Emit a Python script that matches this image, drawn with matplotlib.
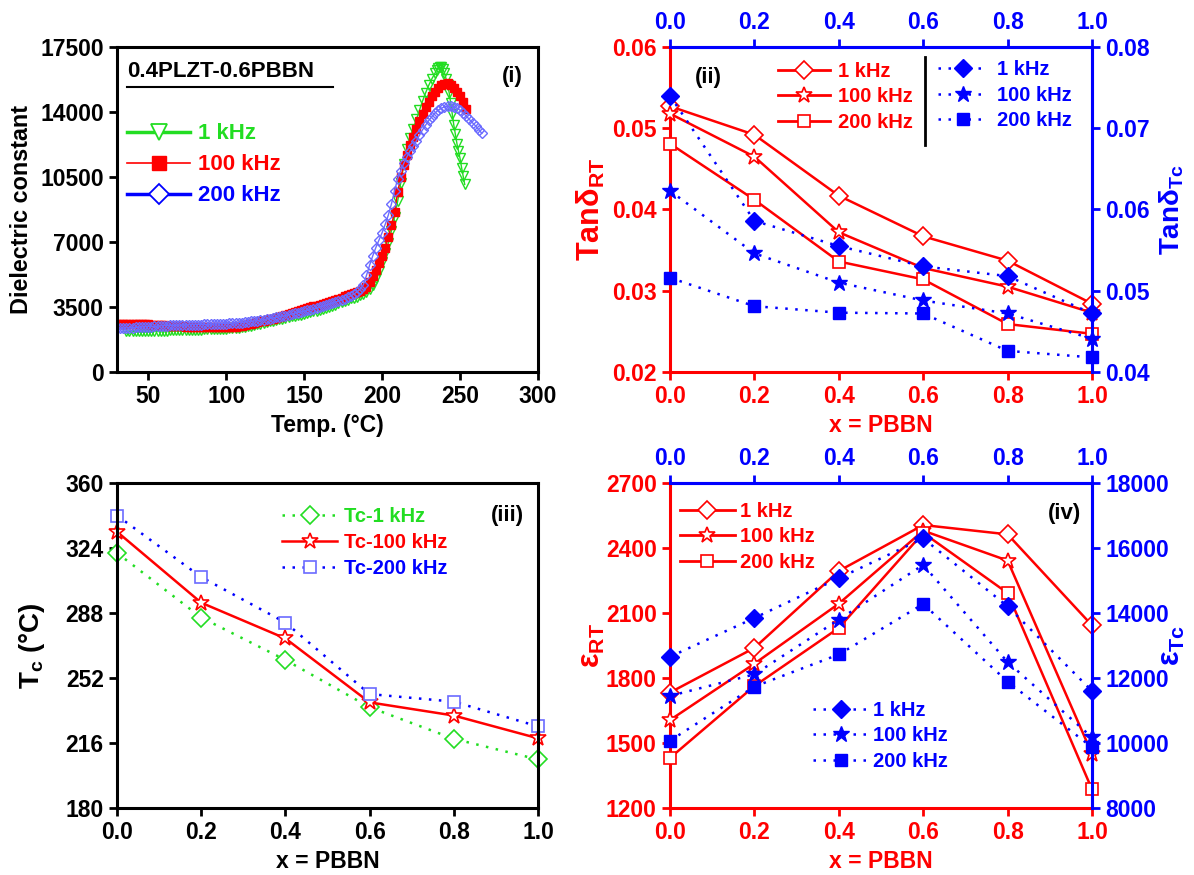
import numpy as np
import matplotlib
matplotlib.use("Agg")
import matplotlib.pyplot as plt
from matplotlib.lines import Line2D

plt.rcParams['font.family'] = ['Liberation Sans', 'DejaVu Sans']
plt.rcParams['font.weight'] = 'bold'
plt.rcParams['mathtext.fontset'] = 'custom'
plt.rcParams['mathtext.rm'] = 'Liberation Sans:bold'
plt.rcParams['mathtext.it'] = 'Liberation Sans:bold'
plt.rcParams['mathtext.bf'] = 'Liberation Sans:bold'
plt.rcParams['mathtext.default'] = 'bf'

# ---------------- data: panel (i) ----------------
temp_200k = np.arange(30, 265, 2)
eps_200k = [2350, 2350, 2360, 2370, 2380, 2390, 2400, 2410, 2420, 2430,
            2440, 2450, 2460, 2470, 2480, 2490, 2500, 2505, 2510, 2515,
            2520, 2525, 2530, 2535, 2540, 2545, 2550, 2555, 2560, 2565,
            2570, 2575, 2580, 2590, 2600, 2610, 2620, 2630, 2640, 2650,
            2665, 2680, 2700, 2720, 2740, 2760, 2790, 2820, 2850, 2880,
            2910, 2940, 2970, 3000, 3040, 3080, 3120, 3160, 3200, 3240,
            3280, 3320, 3360, 3400, 3450, 3500, 3550, 3600, 3650, 3700,
            3760, 3820, 3880, 3950, 4020, 4100, 4200, 4320, 4470, 4700,
            5200, 5750, 6250, 6700, 7100, 7500, 7950, 8450, 9050, 9750,
            10400, 10850, 11250, 11600, 11900, 12150, 12450, 12750, 13050, 13300,
            13550, 13750, 13950, 14100, 14200, 14280, 14320, 14320, 14280, 14200,
            14100, 13950, 13780, 13600, 13420, 13250, 13050, 12850]

temp_100k = np.arange(30, 255, 2)
eps_100k = [2600, 2600, 2600, 2600, 2600, 2600, 2600, 2590, 2580, 2570,
            2560, 2550, 2540, 2530, 2520, 2510, 2500, 2490, 2480, 2470,
            2460, 2455, 2450, 2445, 2440, 2435, 2430, 2425, 2420, 2420,
            2420, 2420, 2420, 2420, 2425, 2430, 2435, 2440, 2450, 2470,
            2500, 2530, 2560, 2600, 2640, 2680, 2720, 2760, 2800, 2840,
            2880, 2930, 2980, 3030, 3080, 3130, 3180, 3230, 3280, 3330,
            3380, 3430, 3480, 3530, 3580, 3630, 3680, 3730, 3780, 3830,
            3890, 3950, 4010, 4070, 4130, 4190, 4250, 4310, 4370, 4450,
            4600, 4850, 5150, 5500, 5850, 6250, 6700, 7250, 7900, 8600,
            9700, 10500, 11150, 11700, 12200, 12650, 13100, 13500, 13900, 14250,
            14550, 14850, 15100, 15300, 15450, 15530, 15550, 15450, 15300, 15100,
            14850, 14550, 14150]

temp_1k = np.concatenate([np.arange(36, 235, 2), np.arange(235, 254, 1)])
eps_1k = [2200, 2200, 2200, 2200, 2200, 2200, 2200, 2200, 2210, 2210,
          2220, 2220, 2230, 2230, 2240, 2240, 2250, 2250, 2255, 2260,
          2265, 2270, 2275, 2280, 2285, 2290, 2295, 2300, 2305, 2310,
          2315, 2320, 2330, 2345, 2360, 2375, 2390, 2410, 2440, 2470,
          2500, 2530, 2560, 2600, 2640, 2680, 2720, 2760, 2800, 2840,
          2880, 2920, 2960, 2990, 3020, 3050, 3080, 3110, 3160, 3210,
          3260, 3310, 3360, 3410, 3460, 3510, 3560, 3610, 3690, 3770,
          3840, 3900, 3960, 4010, 4060, 4120, 4200, 4330, 4480, 4700,
          5050, 5450, 5900, 6400, 6950, 7600, 8350, 9200, 10200, 11200,
          12000, 12600, 13100, 13600, 14100, 14600, 15050, 15450, 15800, 16100,
          16250, 16350, 16420, 16420, 16300, 16100, 15800, 15450, 15050, 14500,
          13900, 13300, 12800, 12300, 11900, 11500, 11000, 10550, 10100]

# ---------------- data: composition panels ----------------
x_pbbn = [0.0, 0.2, 0.4, 0.6, 0.8, 1.0]
freq_labels = ['1 kHz', '100 kHz', '200 kHz']
tc_labels = ['Tc-1 kHz', 'Tc-100 kHz', 'Tc-200 kHz']

tan_rt_1k = [0.0527, 0.0492, 0.0417, 0.0367, 0.0337, 0.0284]
tan_rt_100k = [0.0518, 0.0465, 0.0372, 0.0328, 0.0305, 0.0273]
tan_rt_200k = [0.0481, 0.0412, 0.0336, 0.0314, 0.0259, 0.0247]
tan_tc_1k = [0.0740, 0.0586, 0.0555, 0.0530, 0.0518, 0.0472]
tan_tc_100k = [0.0623, 0.0546, 0.0510, 0.0488, 0.0472, 0.0441]
tan_tc_200k = [0.0516, 0.0481, 0.0473, 0.0472, 0.0426, 0.0418]

tc_1k = [321.3, 285.5, 262.0, 235.8, 218.3, 206.9]
tc_100k = [333.0, 293.7, 273.9, 238.5, 231.2, 218.6]
tc_200k = [342.0, 307.9, 282.7, 243.1, 238.9, 225.2]

eps_rt_1k = [1733, 1939, 2294, 2506, 2463, 2043]
eps_rt_100k = [1606, 1866, 2143, 2480, 2342, 1450]
eps_rt_200k = [1431, 1763, 2031, 2470, 2192, 1286]
eps_tc_1k = [12653, 13847, 15071, 16296, 14204, 11602]
eps_tc_100k = [11449, 12112, 13796, 15480, 12490, 10173]
eps_tc_200k = [10071, 11735, 12724, 14276, 11888, 9867]

RED = '#ff0000'
BLUE = '#0000ff'
GREEN = '#22dd22'
LBLUE = '#6b6bff'
DOT = (0, (1, 3))

TICK_FS = 16.5
LAB_FS = 16.5
LEG_FS = 14.5
LEG_SP = 0.33

fig = plt.figure(figsize=(11.94, 8.75), dpi=100)
W, H = 1194.0, 875.0
ax1 = fig.add_axes([117 / W, (H - 372) / H, 421 / W, 325 / H])
ax2 = fig.add_axes([670 / W, (H - 372) / H, 422 / W, 325 / H])
ax3 = fig.add_axes([117 / W, (H - 808) / H, 421 / W, 325 / H])
ax4 = fig.add_axes([670 / W, (H - 808) / H, 422 / W, 325 / H])


def style_black(ax):
    for s in ax.spines.values():
        s.set_linewidth(2.2)
        s.set_color('black')
    ax.tick_params(direction='out', length=6, width=2, labelsize=TICK_FS,
                   top=False, right=False)


# ---------------- panel (i) ----------------
style_black(ax1)
ax1.plot(temp_1k, eps_1k, color=GREEN, lw=1.0, marker='v', ms=6.5, mfc='none',
         mec=GREEN, mew=1.0)
ax1.plot(temp_100k, eps_100k, color=RED, lw=1.0, marker='s', ms=6, mfc=RED,
         mec=RED, mew=1.0)
ax1.plot(temp_200k, eps_200k, color=LBLUE, lw=1.0, marker='D', ms=5.5, mfc='none',
         mec=LBLUE, mew=1.0)
ax1.set_xlim(30, 300)
ax1.set_ylim(0, 17500)
ax1.set_xticks([50, 100, 150, 200, 250, 300])
ax1.set_yticks([0, 3500, 7000, 10500, 14000, 17500])
ax1.set_xlabel('Temp. (°C)', fontsize=LAB_FS, fontweight='bold')
ax1.set_ylabel('Dielectric constant', fontsize=16.8, fontweight='bold')
ax1.yaxis.set_label_coords(-0.2, 0.5)
h1 = [Line2D([], [], color=GREEN, lw=2.5, marker='v', ms=12, mfc='white', mec=GREEN, mew=1.3),
      Line2D([], [], color=RED, lw=1.2, marker='s', ms=10, mfc=RED, mec=RED),
      Line2D([], [], color=BLUE, lw=2.5, marker='D', ms=10, mfc='white', mec=BLUE, mew=1.3)]
leg = ax1.legend(h1, freq_labels, loc='upper left', bbox_to_anchor=(0.024, 0.765),
                 frameon=False, fontsize=16, handlelength=2.85, handletextpad=0.33,
                 labelspacing=0.45, borderpad=0, borderaxespad=0)
for t, c in zip(leg.get_texts(), [GREEN, RED, BLUE]):
    t.set_color(c)
    t.set_fontweight('bold')
ax1.text(0.024, 0.924, '0.4PLZT-0.6PBBN', transform=ax1.transAxes, fontsize=16,
         fontweight='bold', va='center', ha='left')
ax1.plot([0.024, 0.513], [0.877, 0.877], transform=ax1.transAxes, color='black', lw=1.5)
ax1.text(0.94, 0.91, '(i)', transform=ax1.transAxes, fontsize=16, fontweight='bold',
         ha='center', va='center')

# ---------------- helper for twin panels ----------------
def style_twin(ax, axr, sec):
    ax.spines['left'].set_color(RED)
    ax.spines['bottom'].set_color(RED)
    ax.spines['top'].set_color(BLUE)
    ax.spines['right'].set_color(BLUE)
    for s in ax.spines.values():
        s.set_linewidth(2.2)
    for k in ['left', 'bottom', 'top']:
        axr.spines[k].set_visible(False)
    axr.spines['right'].set_color(BLUE)
    axr.spines['right'].set_linewidth(2.2)
    sec.spines['top'].set_color(BLUE)
    sec.spines['top'].set_linewidth(2.2)
    ax.tick_params(axis='both', direction='out', length=6, width=2, colors=RED,
                   labelsize=TICK_FS)
    axr.tick_params(axis='y', direction='out', length=6, width=2, colors=BLUE,
                    labelsize=TICK_FS)
    sec.tick_params(axis='x', direction='out', length=6, width=2, colors=BLUE,
                    labelsize=TICK_FS)


# ---------------- panel (ii) ----------------
ax2r = ax2.twinx()
sec2 = ax2.secondary_xaxis('top')
style_twin(ax2, ax2r, sec2)
for ys, m, ms in [(tan_rt_1k, 'D', 9), (tan_rt_100k, '*', 12), (tan_rt_200k, 's', 8)]:
    ax2.plot(x_pbbn, ys, color=RED, lw=1.8, marker=m, ms=ms, mfc='white', mec=RED,
             mew=1.2, clip_on=False, zorder=3)
for ys, m, ms in [(tan_tc_1k, 'D', 9), (tan_tc_100k, '*', 12), (tan_tc_200k, 's', 8)]:
    ax2r.plot(x_pbbn, ys, color=BLUE, lw=1.8, ls=DOT, marker=m, ms=ms, mfc=BLUE,
              mec=BLUE, clip_on=False, zorder=3)
ax2.set_xlim(0, 1)
ax2.set_ylim(0.02, 0.06)
ax2r.set_ylim(0.04, 0.08)
ax2.set_xticks(x_pbbn)
ax2.set_xticklabels(['%.1f' % v for v in x_pbbn])
sec2.set_xticks(x_pbbn)
sec2.set_xticklabels(['%.1f' % v for v in x_pbbn])
ax2.set_yticks([0.02, 0.03, 0.04, 0.05, 0.06])
ax2.set_yticklabels(['0.02', '0.03', '0.04', '0.05', '0.06'])
ax2r.set_yticks([0.04, 0.05, 0.06, 0.07, 0.08])
ax2r.set_yticklabels(['0.04', '0.05', '0.06', '0.07', '0.08'])
ax2.set_xlabel('x = PBBN', fontsize=LAB_FS, fontweight='bold', color=RED)
ax2.set_ylabel('Tanδ$_{RT}$', fontsize=22, fontweight='bold', color=RED)
ax2.yaxis.set_label_coords(-0.15, 0.5)
ax2r.set_ylabel('Tanδ$_{Tc}$', fontsize=20, fontweight='bold', color=BLUE)
ax2r.yaxis.set_label_coords(1.155, 0.5)
hr = [Line2D([], [], color=RED, lw=2, marker=m, ms=ms, mfc='white', mec=RED, mew=1.2)
      for m, ms in [('D', 9), ('*', 12), ('s', 8)]]
hb = [Line2D([], [], color=BLUE, lw=1.8, ls=DOT, marker=m, ms=ms, mfc=BLUE, mec=BLUE)
      for m, ms in [('D', 9), ('*', 12), ('s', 8)]]
lg = ax2.legend(hr, freq_labels, loc='upper left', bbox_to_anchor=(0.256, 0.955),
                frameon=False, fontsize=LEG_FS, handlelength=2.6, handletextpad=0.37,
                labelspacing=LEG_SP, borderpad=0, borderaxespad=0)
for t in lg.get_texts():
    t.set_color(RED)
lg2 = ax2r.legend(hb, freq_labels, loc='upper left', bbox_to_anchor=(0.635, 0.96),
                  frameon=False, fontsize=LEG_FS, handlelength=2.5, handletextpad=0.45,
                  labelspacing=LEG_SP, borderpad=0, borderaxespad=0)
for t in lg2.get_texts():
    t.set_color(BLUE)
ax2.plot([0.604, 0.604], [0.697, 0.969], transform=ax2.transAxes, color='black', lw=2)
ax2.text(0.092, 0.905, '(ii)', transform=ax2.transAxes, fontsize=16, fontweight='bold',
         ha='center', va='center')

# ---------------- panel (iii) ----------------
style_black(ax3)
ax3.plot(x_pbbn, tc_1k, color=GREEN, lw=1.8, ls=DOT, marker='D', ms=9, mfc='white',
         mec=GREEN, mew=1.2, clip_on=False, label=tc_labels[0])
ax3.plot(x_pbbn, tc_100k, color=RED, lw=1.8, marker='*', ms=12, mfc='white',
         mec=RED, mew=1.2, clip_on=False, label=tc_labels[1])
ax3.plot(x_pbbn, tc_200k, color=BLUE, lw=1.8, ls=DOT, marker='s', ms=8, mfc='white',
         mec=LBLUE, mew=1.2, clip_on=False, label=tc_labels[2])
ax3.set_xlim(0, 1)
ax3.set_ylim(180, 360)
ax3.set_xticks(x_pbbn)
ax3.set_xticklabels(['%.1f' % v for v in x_pbbn])
ax3.set_yticks([180, 216, 252, 288, 324, 360])
ax3.set_xlabel('x = PBBN', fontsize=LAB_FS, fontweight='bold')
ax3.set_ylabel('T$_c$ (°C)', fontsize=20, fontweight='bold')
ax3.yaxis.set_label_coords(-0.166, 0.5)
lg3 = ax3.legend(loc='upper left', bbox_to_anchor=(0.392, 0.925), frameon=False,
                 fontsize=LEG_FS, handlelength=2.75, handletextpad=0.35,
                 labelspacing=LEG_SP, borderpad=0, borderaxespad=0)
for t, c in zip(lg3.get_texts(), [GREEN, RED, BLUE]):
    t.set_color(c)
ax3.text(0.927, 0.9, '(iii)', transform=ax3.transAxes, fontsize=16, fontweight='bold',
         ha='center', va='center')

# ---------------- panel (iv) ----------------
ax4r = ax4.twinx()
sec4 = ax4.secondary_xaxis('top')
style_twin(ax4, ax4r, sec4)
for ys, m, ms in [(eps_rt_1k, 'D', 9), (eps_rt_100k, '*', 12), (eps_rt_200k, 's', 8)]:
    ax4.plot(x_pbbn, ys, color=RED, lw=1.8, marker=m, ms=ms, mfc='white', mec=RED,
             mew=1.2, clip_on=False, zorder=3)
for ys, m, ms in [(eps_tc_1k, 'D', 9), (eps_tc_100k, '*', 12), (eps_tc_200k, 's', 8)]:
    ax4r.plot(x_pbbn, ys, color=BLUE, lw=1.8, ls=DOT, marker=m, ms=ms, mfc=BLUE,
              mec=BLUE, clip_on=False, zorder=3)
ax4.set_xlim(0, 1)
ax4.set_ylim(1200, 2700)
ax4r.set_ylim(8000, 18000)
ax4.set_xticks(x_pbbn)
ax4.set_xticklabels(['%.1f' % v for v in x_pbbn])
sec4.set_xticks(x_pbbn)
sec4.set_xticklabels(['%.1f' % v for v in x_pbbn])
ax4.set_yticks([1200, 1500, 1800, 2100, 2400, 2700])
ax4r.set_yticks([8000, 10000, 12000, 14000, 16000, 18000])
ax4.set_xlabel('x = PBBN', fontsize=LAB_FS, fontweight='bold', color=RED)
ax4.set_ylabel('ε$_{RT}$', fontsize=22, fontweight='bold', color=RED)
ax4.yaxis.set_label_coords(-0.15, 0.5)
ax4r.set_ylabel('ε$_{Tc}$', fontsize=22, fontweight='bold', color=BLUE)
ax4r.yaxis.set_label_coords(1.155, 0.5)
lg4 = ax4.legend(hr, freq_labels, loc='upper left', bbox_to_anchor=(0.024, 0.942),
                 frameon=False, fontsize=LEG_FS, handlelength=2.7, handletextpad=0.28,
                 labelspacing=LEG_SP, borderpad=0, borderaxespad=0)
for t in lg4.get_texts():
    t.set_color(RED)
lg5 = ax4r.legend(hb, freq_labels, loc='upper left', bbox_to_anchor=(0.339, 0.33),
                  frameon=False, fontsize=LEG_FS, handlelength=2.8, handletextpad=0.2,
                  labelspacing=LEG_SP, borderpad=0, borderaxespad=0)
for t in lg5.get_texts():
    t.set_color(BLUE)
ax4.text(0.936, 0.905, '(iv)', transform=ax4.transAxes, fontsize=16, fontweight='bold',
         ha='center', va='center')

fig.savefig('out.png', dpi=100)
